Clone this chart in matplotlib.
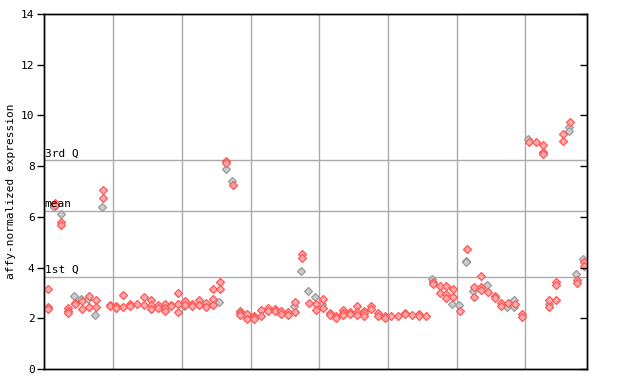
import matplotlib
matplotlib.use("Agg")
import matplotlib.pyplot as plt

# ---- data (per sample column) ----
red_values = [
    [3.15, 2.45, 2.38], [6.55, 6.45], [5.78, 5.68], [2.42, 2.3, 2.2], [2.62, 2.58],
    [2.7, 2.35], [2.88, 2.43], [2.71, 2.43], [7.05, 6.73], [2.54, 2.5],
    [2.5, 2.39], [2.9, 2.43], [2.55, 2.5], [2.55], [2.85, 2.51],
    [2.71, 2.52, 2.35], [2.54, 2.4], [2.56, 2.39, 2.27], [2.52, 2.48], [2.98, 2.56, 2.26],
    [2.67, 2.54], [2.55, 2.48], [2.72, 2.54], [2.59, 2.46], [3.15, 2.75, 2.52],
    [3.43, 3.15], [8.2, 8.12], [7.27], [2.28, 2.2, 2.12], [2.16, 1.98],
    [2.1, 2.04, 1.97], [2.34, 2.09], [2.39, 2.29], [2.37, 2.27], [2.29, 2.18],
    [2.25, 2.14], [2.64, 2.25], [4.52, 4.36], [2.59], [2.55, 2.31],
    [2.75, 2.39], [2.22, 2.13], [2.1, 2.03], [2.31, 2.22, 2.12], [2.26, 2.17],
    [2.48, 2.26, 2.13], [2.29, 2.2, 2.1], [2.48, 2.37], [2.2, 2.1], [2.08, 2.01],
    [2.09], [2.09], [2.22, 2.16], [2.14], [2.17, 2.1],
    [2.09], [3.45, 3.36], [3.27, 2.99], [3.27, 2.96, 2.79], [3.14, 2.83],
    [2.27], [4.72], [3.25, 2.84], [3.67, 3.22, 3.12], [3.02],
    [2.89, 2.79], [2.62, 2.5], [2.59], [2.56], [2.16, 2.05],
    [8.95], [8.95], [8.82, 8.54, 8.47], [2.72, 2.44], [3.43, 3.32, 2.71],
    [9.28, 8.98], [9.73], [3.5, 3.39], [4.22, 4.05],
]
gray_values = [
    [], [6.4], [6.1], [], [2.88],
    [2.75], [2.76], [2.12], [6.38], [],
    [], [], [], [], [],
    [], [], [], [], [],
    [2.5], [], [], [], [],
    [2.63], [7.88], [7.4], [], [2.07],
    [], [], [], [], [],
    [], [2.47], [3.85], [3.08], [2.83],
    [2.56], [], [], [], [],
    [], [], [], [], [],
    [], [], [], [], [],
    [], [3.55], [], [], [2.56],
    [2.52], [4.27, 4.21], [3.06], [], [3.31],
    [], [], [2.43], [2.72, 2.46], [],
    [9.06], [], [], [2.57], [],
    [], [9.55, 9.4], [3.74], [4.33],
]
q1, mean_v, q3 = 3.63, 6.23, 8.23
y_ticks = [0, 2, 4, 6, 8, 10, 12, 14]
group_bounds = [9.5, 19.5, 29.5, 39.5, 49.5, 59.5, 69.5]

RED_E, RED_F = "#ff5555", "#ffaaaa"
GRAY_E, GRAY_F = "#999999", "#cccccc"
GRID = "#aaaaaa"
MONO = "DejaVu Sans Mono"

fig = plt.figure(figsize=(6.4, 3.84), dpi=100)
ax = fig.add_axes([44.3 / 640, 15 / 384, 543 / 640, 355 / 384])
n = len(red_values)
ax.set_xlim(-0.5, n - 0.5)
ax.set_ylim(0, 14)

for xb in group_bounds:
    ax.axvline(xb, color=GRID, lw=1, zorder=1)
for yv, lab in [(q3, "3rd Q"), (mean_v, "mean"), (q1, "1st Q")]:
    ax.axhline(yv, color=GRID, lw=1, zorder=1)
    ax.text(-0.45, yv + 0.08, lab, family=MONO, fontsize=8, ha="left",
            va="bottom", zorder=5)

gx, gy, rx, ry = [], [], [], []
for i, vals in enumerate(gray_values):
    for v in vals:
        gx.append(i - 0.12)
        gy.append(v)
for i, vals in enumerate(red_values):
    for v in vals:
        rx.append(i)
        ry.append(v)
ax.plot(gx, gy, ls="none", marker="D", ms=4.2, mfc=GRAY_F, mec=GRAY_E, mew=0.9, zorder=3)
ax.plot(rx, ry, ls="none", marker="D", ms=4.2, mfc=RED_F, mec=RED_E, mew=0.9, zorder=4)

ax.set_xticks([])
ax.set_yticks(y_ticks)
ax.set_yticklabels([str(t) for t in y_ticks], family=MONO, fontsize=8)
ax.tick_params(axis="y", direction="out", length=5, width=1, left=True, right=False, pad=2)
ax2 = ax.twinx()
ax2.set_ylim(0, 14)
ax2.set_yticks(y_ticks)
ax2.set_yticklabels([])
ax2.tick_params(axis="y", direction="in", length=5, width=1)
for a in (ax, ax2):
    for s in a.spines.values():
        s.set_linewidth(1)
ax.set_ylabel("affy-normalized expression", family=MONO, fontsize=8, labelpad=4)

fig.savefig("out.png", dpi=100)
